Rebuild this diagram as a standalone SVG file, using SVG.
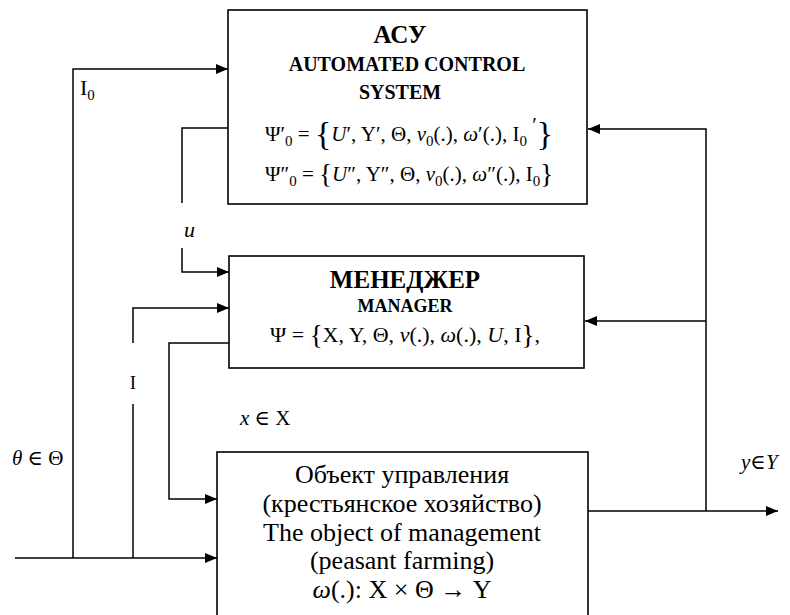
<svg xmlns="http://www.w3.org/2000/svg" width="790" height="615" viewBox="0 0 790 615">
  <style>
    .t { font-family: "Liberation Serif", "DejaVu Serif", serif; fill: #000; }
    .b { font-weight: bold; }
    .i { font-style: italic; }
    .sb { font-size: 15px; }
    .box { fill: #fff; stroke: #000; stroke-width: 1.6; }
    .ln { fill: none; stroke: #000; stroke-width: 1.5; }
    .arr { marker-end: url(#ah); }
  </style>
  <defs>
    <marker id="ah" markerWidth="12" markerHeight="10" refX="12" refY="5" orient="auto" markerUnits="userSpaceOnUse">
      <path d="M0,0 L12,5 L0,10 Z" fill="#000"/>
    </marker>
  </defs>

  <rect width="790" height="615" fill="#fff"/>

  <!-- connectors -->
  <g id="connectors">
    <!-- input disturbance bus -->
    <path class="ln arr" d="M15,558 H217"/>
    <!-- I0 into the control system -->
    <path class="ln arr" d="M73,558 V69 H228"/>
    <!-- I into the manager (broken around its label) -->
    <path class="ln" d="M133,558 V404"/>
    <path class="ln arr" d="M133,343 V308 H229"/>
    <!-- u from the control system to the manager (broken around its label) -->
    <path class="ln" d="M228,128 H182 V203"/>
    <path class="ln arr" d="M182,248 V272 H229"/>
    <!-- x from the manager to the object -->
    <path class="ln arr" d="M229,343 H169 V499 H217"/>
    <!-- output y and feedback -->
    <path class="ln arr" d="M588,511 H778"/>
    <path class="ln arr" d="M706,511 V129 H588"/>
    <path class="ln arr" d="M706,321 H585"/>
  </g>

  <!-- automated control system -->
  <g id="acs">
    <rect class="box" x="228" y="10" width="359" height="194"/>
    <text class="t b" x="400" y="43" font-size="25" text-anchor="middle">АСУ</text>
    <text class="t b" x="407" y="71" font-size="20" text-anchor="middle">AUTOMATED CONTROL</text>
    <text class="t b" x="400" y="99" font-size="20" text-anchor="middle">SYSTEM</text>
    <text class="t" x="265" y="141" font-size="21">Ψ′<tspan class="sb" dy="5">0</tspan><tspan dy="-5"> = </tspan><tspan font-size="34" dy="4">{</tspan><tspan class="i" dy="-4">U</tspan>′, Y′, Θ, <tspan class="i">ν</tspan><tspan class="sb" dy="5">0</tspan><tspan dy="-5">(.), </tspan><tspan class="i">ω</tspan>′(.), I<tspan class="sb" dy="5">0</tspan><tspan dy="-14"> ′</tspan><tspan font-size="34" dy="13">}</tspan></text>
    <text class="t" x="265" y="181" font-size="21">Ψ″<tspan class="sb" dy="5">0</tspan><tspan dy="-5"> = </tspan><tspan font-size="27" dy="2">{</tspan><tspan class="i" dy="-2">U</tspan>″, Y″, Θ, <tspan class="i">ν</tspan><tspan class="sb" dy="5">0</tspan><tspan dy="-5">(.), </tspan><tspan class="i">ω</tspan>″(.), I<tspan class="sb" dy="5">0</tspan><tspan font-size="27" dy="-3">}</tspan></text>
  </g>

  <!-- manager -->
  <g id="manager">
    <rect class="box" x="229" y="256" width="355" height="112"/>
    <text class="t b" x="405" y="288" font-size="25" text-anchor="middle">МЕНЕДЖЕР</text>
    <text class="t b" x="405" y="312" font-size="18" text-anchor="middle">MANAGER</text>
    <text class="t" x="270" y="342" font-size="22">Ψ = <tspan font-size="27" dy="2">{</tspan><tspan dy="-2">X, Y, Θ, </tspan><tspan class="i">ν</tspan>(.), <tspan class="i">ω</tspan>(.), <tspan class="i">U</tspan>, I<tspan font-size="27" dy="2">}</tspan><tspan dy="-2">,</tspan></text>
  </g>

  <!-- controlled object -->
  <g id="object">
    <rect class="box" x="217" y="452" width="371" height="175"/>
    <text class="t" x="402" y="483" font-size="26" text-anchor="middle">Объект управления</text>
    <text class="t" x="402" y="512" font-size="26" text-anchor="middle">(крестьянское хозяйство)</text>
    <text class="t" x="402" y="541" font-size="26" text-anchor="middle">The object of management</text>
    <text class="t" x="402" y="569" font-size="26" text-anchor="middle">(peasant farming)</text>
    <text class="t" x="402" y="598" font-size="26" text-anchor="middle"><tspan class="i">ω</tspan>(.): X × Θ → Y</text>
  </g>

  <!-- signal labels -->
  <g id="labels">
    <text class="t" x="80" y="95" font-size="22">I<tspan class="sb" dy="5">0</tspan></text>
    <text class="t i" x="184" y="237" font-size="22">u</text>
    <text class="t" x="133" y="389" font-size="19" text-anchor="middle">I</text>
    <text class="t" x="240" y="425" font-size="21"><tspan class="i">x</tspan> ∈ X</text>
    <text class="t" x="12" y="465" font-size="21"><tspan class="i">θ</tspan> ∈ Θ</text>
    <text class="t" x="741" y="469" font-size="21"><tspan class="i">y</tspan>∈<tspan class="i">Y</tspan></text>
  </g>
</svg>
